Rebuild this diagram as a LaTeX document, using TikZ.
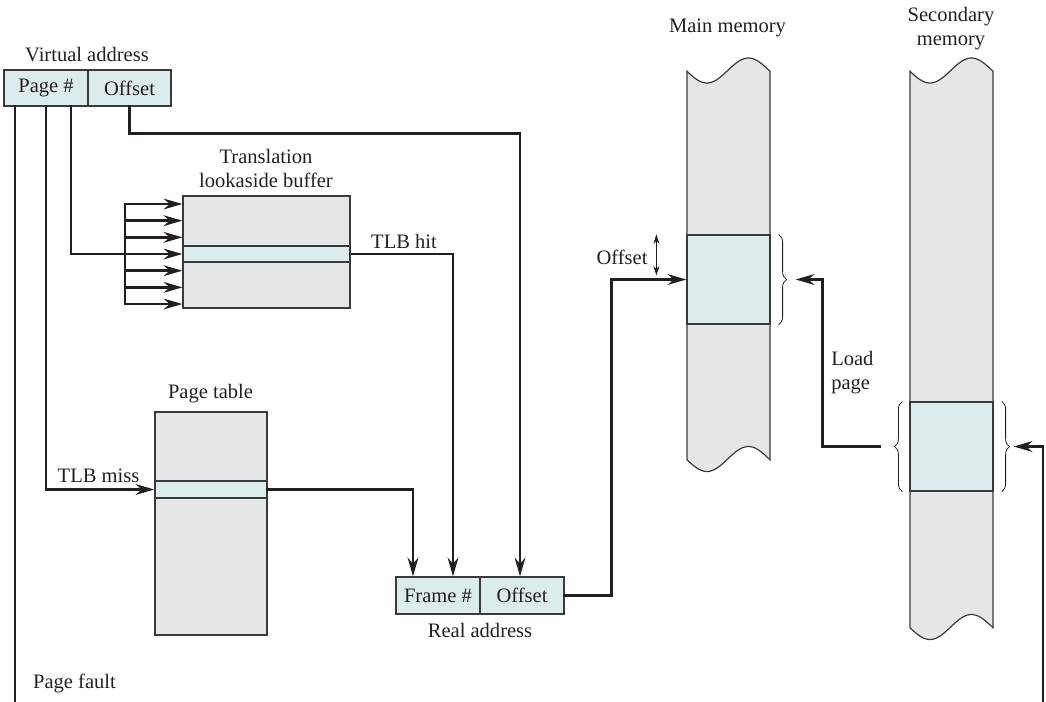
\documentclass[tikz,border=0pt]{standalone}
\usepackage{fontspec}
\setmainfont{Liberation Serif}
\usetikzlibrary{arrows.meta, calc, decorations.pathreplacing}
\definecolor{cgray}{HTML}{E5E6E8}
\definecolor{ccyan}{HTML}{DCECEC}
\definecolor{cline}{HTML}{231F20}
\definecolor{cedge}{HTML}{3A3A3C}

\tikzset{
  box/.style={draw=cedge, line width=0.9pt, fill=cgray, inner sep=0pt},
  field/.style={draw=cedge, line width=0.9pt, fill=ccyan, inner sep=0pt,
    minimum width=63pt, minimum height=27pt, text=cline,
    font=\fontsize{15.4}{17.5}\selectfont},
  lbl/.style={inner sep=0pt, align=center, text=cline,
    font=\fontsize{15.4}{17.5}\selectfont},
  conn/.style={draw=cline, line width=2.2pt, line cap=rect, line join=miter},
  tip/.style={-{Stealth[length=14pt 0 0, width=8pt 0 0, inset=4.5pt 0 0]}},
  offarr/.style={draw=cline, line width=0.7pt,
    {Stealth[length=7pt 0 0, width=4.5pt 0 0, inset=2pt 0 0]}-{Stealth[length=7pt 0 0, width=4.5pt 0 0, inset=2pt 0 0]}},
  brc/.style={draw=cline, line width=0.6pt, decorate,
    decoration={brace, amplitude=6pt}},
}

\begin{document}
\begin{tikzpicture}[x=0.75pt, y=-0.75pt]
  \useasboundingbox (0,0) rectangle (1046,701);

  % memory columns with wavy ends
  \foreach \mx/\mb in {687/459, 910/627}{
    \filldraw[fill=cgray, draw=cedge, line width=0.9pt]
      plot[domain=0:83, samples=40, smooth] ({\mx+\x},{70.5+12.5*cos(360*(\x/83-0.24))})
      -- plot[domain=83:0, samples=40, smooth] ({\mx+\x},{\mb+12.5*cos(360*(\x/83-0.24))})
      -- cycle;
  }
  \node[field, minimum width=62.25pt, minimum height=66.75pt] (mmframe) at (728.5,279.5) {};
  \node[field, minimum width=62.25pt, minimum height=66.75pt] (smframe) at (951.5,446.5) {};
  \node[lbl] (mmlabel) at (727.5,27.5) {Main memory};
  \node[lbl, font=\fontsize{15.4}{18}\selectfont] (smlabel) at (951,28.5) {Secondary\\memory};

  % virtual address
  \node[field] (vpage) at (46,88) {Page \#};
  \node[field, minimum width=62.25pt] (voff) at (129.5,88) {Offset};
  \node[lbl] (valabel) at (87,55) {Virtual address};

  % TLB
  \node[box, minimum width=125.25pt, minimum height=84pt] (tlb) at (266.5,252) {};
  \node[field, minimum width=125.25pt, minimum height=12pt] (tlbrow) at (266.5,254) {};
  \node[lbl] (tlblabel) at (266,168.5) {Translation\\lookaside buffer};

  % page table
  \node[box, minimum width=84pt, minimum height=167.25pt] (pt) at (211,523.5) {};
  \node[field, minimum width=84pt, minimum height=12.75pt] (ptrow) at (211,489.5) {};
  \node[lbl] (ptlabel) at (210.5,393.5) {Page table};

  % real address
  \node[field, minimum height=27.75pt] (frame) at (438,595.5) {Frame \#};
  \node[field, minimum height=27.75pt] (roff) at (522,595.5) {Offset};
  \node[lbl] (ralabel) at (480,630) {Real address};

  % page fault
  \coordinate (pfout) at (15,701);
  \draw[conn] (vpage.south -| pfout) -- (pfout);
  \node[lbl] (pflabel) at (74.5,683.5) {Page fault};

  % TLB miss
  \coordinate (missx) at (46,0);
  \draw[conn, tip] (vpage.south -| missx) |- (ptrow.west);
  \node[lbl] (misslabel) at (98.5,476) {TLB miss};

  % TLB lookup
  \coordinate (lookx) at (71,0);
  \coordinate (busx) at (125,0);
  \draw[conn] (vpage.south -| lookx) |- (tlbrow.west -| busx);
  \foreach \i in {0,...,6}{
    \coordinate (bus\i) at (125,{204+\i*16.67});
    \draw[conn, tip] (bus\i) -- (bus\i -| tlb.west);
  }
  \draw[conn] (bus0) -- (bus6);

  % TLB hit
  \draw[conn, tip] (tlbrow.east) -| ($(frame.north)+(15,0)$);
  \node[lbl] (hitlabel) at (404,241) {TLB hit};

  % page table result
  \draw[conn, tip] (ptrow.east) -| ($(frame.north)+(-25,0)$);

  % offset
  \draw[conn, tip] (voff.south) -- ++(0,27) -| ($(roff.north)+(-2,0)$);

  % to main memory
  \draw[conn, tip] (roff.east) -- ++(47,0) |- (mmframe.west);
  \draw[offarr] ($(mmframe.north west)+(-30,0)$) -- ($(mmframe.west)+(-30,-4)$);
  \node[lbl] (offlabel) at (622,257) {Offset};

  % braces
  \draw[brc] ($(mmframe.north east)+(8,0)$) -- ($(mmframe.south east)+(8,0)$);
  \draw[brc] ($(smframe.south west)+(-7,0)$) -- ($(smframe.north west)+(-7,0)$);
  \draw[brc] ($(smframe.north east)+(8,0)$) -- ($(smframe.south east)+(8,0)$);

  % load page
  \coordinate (loadsrc) at ($(smframe.west)+(-30,0)$);
  \coordinate (loaddst) at ($(mmframe.east)+(25,0)$);
  \draw[conn, tip] (loadsrc) -- ++(-57,0) |- (loaddst);
  \node[lbl, align=left, anchor=west] (loadlabel) at (831,372.5) {Load\\page};

  % page fault into secondary memory
  \coordinate (faultsrc) at (1043,701);
  \coordinate (faultdst) at ($(smframe.east)+(20,0)$);
  \draw[conn, tip] (faultsrc) |- (faultdst);
\end{tikzpicture}
\end{document}
